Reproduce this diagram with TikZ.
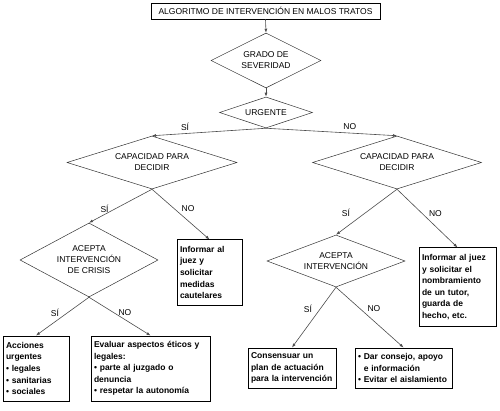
\documentclass[tikz,border=0pt]{standalone}
\usepackage{fontspec}
\setmainfont{Liberation Sans}
\usetikzlibrary{shapes.geometric, arrows.meta}

\tikzset{
  decision/.style={diamond, draw=black!80, line width=0.5pt, inner sep=0pt, align=center,
    font=\fontsize{8.5}{11}\selectfont},
  action/.style={rectangle, draw=black, line width=1pt, inner sep=3pt, align=left,
    font=\fontsize{8.5}{11.6}\selectfont\bfseries},
  link/.style={->, draw=black!70, line width=0.6pt},
  answer/.style={font=\fontsize{8.5}{10}\selectfont, inner sep=1pt},
}

\begin{document}
\begin{tikzpicture}[x=1pt, y=-1pt, >={Latex[length=4pt,width=3pt]}]
    \useasboundingbox (0,0) rectangle (500,411);
    % Title
    \node[draw, line width=0.8pt, inner sep=0pt, minimum width=229pt, minimum height=16pt,
      font=\fontsize{8.5}{10}\selectfont] (titulo) at (265.5,11) {ALGORITMO DE INTERVENCIÓN EN MALOS TRATOS};
    % Decisions
    \node[decision, shape aspect=2, minimum width=110pt, minimum height=55pt] (grado) at (266,60.5) {GRADO DE\\SEVERIDAD};
    \node[decision, shape aspect=3, minimum width=93pt, minimum height=31pt] (urgente) at (266,112.5) {URGENTE};
    \node[decision, shape aspect=3.2, minimum width=170pt, minimum height=53pt] (capsi) at (152,162.5) {CAPACIDAD PARA\\DECIDIR};
    \node[decision, shape aspect=3.2, minimum width=169pt, minimum height=53pt] (capno) at (397,162.5) {CAPACIDAD PARA\\DECIDIR};
    \node[decision, shape aspect=1.8, minimum width=138pt, minimum height=74pt] (crisis) at (89,260) {ACEPTA\\INTERVENCIÓN\\DE CRISIS};
    \node[decision, shape aspect=2.6, minimum width=138pt, minimum height=52pt] (acepta) at (336,261) {ACEPTA\\INTERVENCIÓN};
    % Actions
    \node[action, text width=59pt, minimum height=65pt] (juezsi) at (209.5,272.5) {Informar al\\juez y\\solicitar\\medidas\\cautelares};
    \node[action, text width=71pt, minimum height=78pt] (juezno) at (457.5,287) {Informar al juez\\y solicitar el\\nombramiento\\de un tutor,\\guarda de\\hecho, etc.};
    \node[action, text width=60pt, minimum height=65pt] (acciones) at (36,368.5) {Acciones\\urgentes\\• legales\\• sanitarias\\• sociales};
    \node[action, text width=113pt, minimum height=65pt] (evaluar) at (150.5,368.5) {Evaluar aspectos éticos y\\legales:\\• parte al juzgado o\\denuncia\\• respetar la autonomía};
    \node[action, text width=82pt, minimum height=40pt] (consenso) at (292,368) {Consensuar un\\plan de actuación\\para la intervención};
    \node[action, text width=91pt, minimum height=40pt] (consejo) at (403.5,368) {• Dar consejo, apoyo\\\hphantom{• }e información\\• Evitar el aislamiento};
    % Connectors
    \draw[link] (titulo.south) -- (grado.north);
    \draw[link] (grado.south) -- (urgente.north);
    \draw[link] (urgente.south) -- node[answer, pos=0.71, above=2pt] {SÍ} (capsi.north);
    \draw[link] (urgente.south) -- node[answer, pos=0.64, above=2pt] {NO} (capno.north);
    \draw[link] (capsi.south) -- node[answer, pos=0.59, left=5pt] {SÍ} (crisis.north);
    \draw[link] (capsi.south) -- node[answer, pos=0.39, right=6pt] {NO} (juezsi.north);
    \draw[link] (crisis.south) -- node[answer, pos=0.41, left=7pt] {SÍ} (acciones.north);
    \draw[link] (crisis.south) -- node[answer, pos=0.41, right=3pt] {NO} (evaluar.north);
    \draw[link] (capno.south) -- node[answer, pos=0.52, left=14pt] {SÍ} (acepta.north);
    \draw[link] (capno.south) -- node[answer, pos=0.41, right=6pt] {NO} (juezno.north);
    \draw[link] (acepta.south) -- node[answer, pos=0.36, left=7pt] {SÍ} (consenso.north);
    \draw[link] (acepta.south) -- node[answer, pos=0.36, right=6pt] {NO} (consejo.north);
\end{tikzpicture}
\end{document}
